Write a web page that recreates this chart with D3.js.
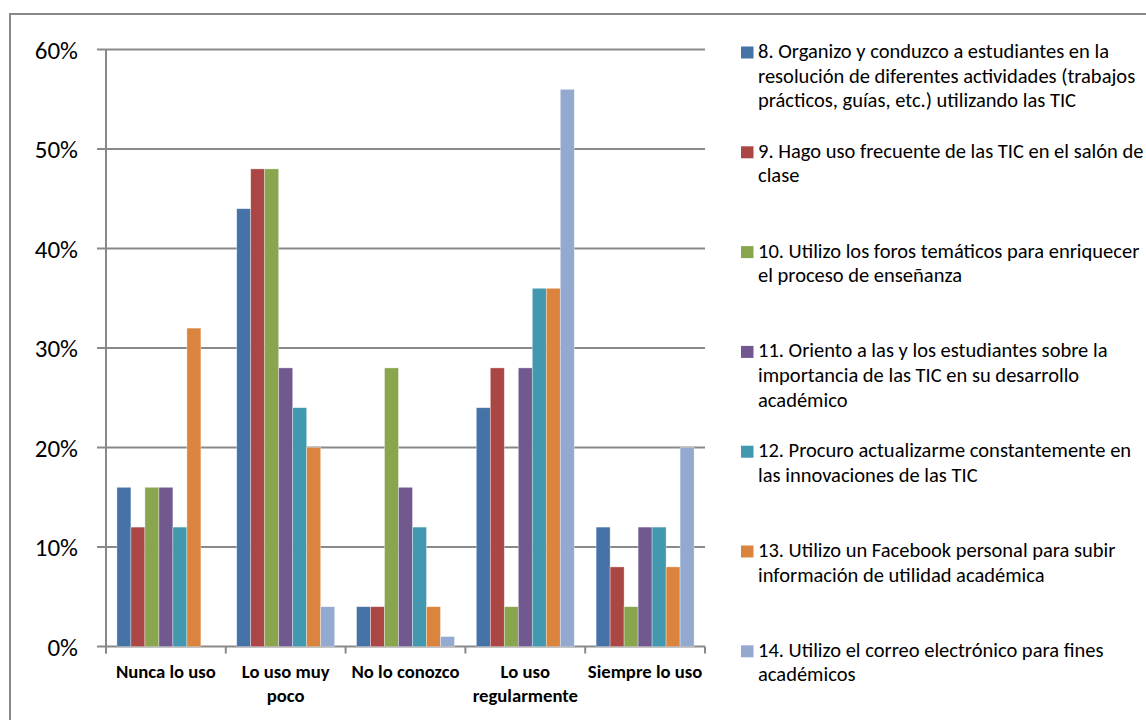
<!DOCTYPE html>
<html><head><meta charset="utf-8">
<script src="https://cdn.jsdelivr.net/npm/d3@7"></script>
<style>body{margin:0;background:#fff}svg{display:block}</style>
</head><body>
<svg id="c" width="1146" height="720"></svg>
<script>
const categories = [["Nunca lo uso"],["Lo uso muy","poco"],["No lo conozco"],["Lo uso","regularmente"],["Siempre lo uso"]];
const seriesNames = [
 ["8. Organizo y conduzco a estudiantes en la","resolución de diferentes actividades (trabajos","prácticos, guías, etc.) utilizando las TIC"],
 ["9. Hago uso frecuente de las TIC en el salón de","clase"],
 ["10. Utilizo los foros temáticos para enriquecer","el proceso de enseñanza"],
 ["11. Oriento a las y los estudiantes sobre la","importancia de las TIC en su desarrollo","académico"],
 ["12. Procuro actualizarme constantemente en","las innovaciones de las TIC"],
 ["13. Utilizo un Facebook personal para subir","información de utilidad académica"],
 ["14. Utilizo el correo electrónico para fines","académicos"]
];
const s8  = [16, 44, 4, 24, 12];
const s9  = [12, 48, 4, 28, 8];
const s10 = [16, 48, 28, 4, 4];
const s11 = [16, 28, 16, 28, 12];
const s12 = [12, 24, 12, 36, 12];
const s13 = [32, 20, 4, 36, 8];
const s14 = [0, 4, 1, 56, 20];
const seriesValues = [s8, s9, s10, s11, s12, s13, s14];
const colors = ["#4572A7","#AA4643","#89A54E","#71588F","#4198AF","#DB843D","#93A9CF"];
const yTicks = [0,10,20,30,40,50,60];

const svg = d3.select("#c");
const font = "Carlito, 'Open Sans', 'Noto Sans', sans-serif";
const grid = "#898989";

// outer frame
svg.append("rect").attr("x",10).attr("y",14).attr("width",1150).attr("height",720)
  .attr("fill","none").attr("stroke",grid).attr("stroke-width",2);

const L=106, R=705, T=49.5, B=646.5;
const x = d3.scaleBand().domain(d3.range(categories.length)).range([L,R]).paddingInner(0).paddingOuter(0);
const xs = d3.scaleBand().domain(d3.range(seriesValues.length)).range([0,x.bandwidth()]).paddingInner(0).paddingOuter(0.78);
const y = d3.scaleLinear().domain([0,60]).range([B,T]);

// gridlines
svg.append("g").selectAll("line").data(yTicks).join("line")
  .attr("x1",L-9).attr("x2",R).attr("y1",d=>y(d)).attr("y2",d=>y(d))
  .attr("stroke",grid).attr("stroke-width",2);

// bars
const data = [];
seriesValues.forEach((vals,si)=>vals.forEach((v,ci)=>data.push({si,ci,v})));
svg.append("g").selectAll("rect").data(data.filter(d=>d.v>0)).join("rect")
  .attr("x",d=>x(d.ci)+xs(d.si)).attr("width",xs.bandwidth())
  .attr("y",d=>y(d.v)).attr("height",d=>y(0)-y(d.v))
  .attr("fill",d=>colors[d.si]).attr("stroke","rgba(255,255,255,0.5)").attr("stroke-width",0.7);

// y axis line
svg.append("line").attr("x1",L).attr("x2",L).attr("y1",T).attr("y2",B+7).attr("stroke",grid).attr("stroke-width",2);
// x axis ticks
svg.append("g").selectAll("line").data(d3.range(categories.length+1)).join("line")
  .attr("x1",d=>L+d*x.bandwidth()).attr("x2",d=>L+d*x.bandwidth()).attr("y1",B).attr("y2",B+7)
  .attr("stroke",grid).attr("stroke-width",2);

// y labels
svg.append("g").selectAll("text").data(yTicks).join("text")
  .attr("x",78).attr("y",d=>y(d)+9).attr("text-anchor","end")
  .attr("font-family",font).attr("font-size",25).attr("fill","#000")
  .text(d=>d+"%");

// x labels
const xl = svg.append("g").selectAll("text").data(categories).join("text")
  .attr("text-anchor","middle").attr("font-family",font).attr("font-weight","bold")
  .attr("font-size",18.7).attr("fill","#000");
xl.each(function(lines,i){
  const t=d3.select(this);
  lines.forEach((ln,j)=>t.append("tspan").attr("x",x(i)+x.bandwidth()/2).attr("y",678+j*23.5).text(ln));
});

// legend
const lg = svg.append("g").selectAll("g").data(seriesNames).join("g")
  .attr("transform",(d,i)=>`translate(741,${58+i*99.8})`);
lg.append("rect").attr("x",0).attr("y",-11.5).attr("width",12.5).attr("height",12).attr("fill",(d,i)=>colors[i]);
lg.append("text").attr("font-family",font).attr("font-size",20.5).attr("fill","#000")
  .each(function(lines){
    const t=d3.select(this);
    lines.forEach((ln,j)=>t.append("tspan").attr("x",17).attr("y",j*24.7).text(ln));
  });
</script>
</body></html>
